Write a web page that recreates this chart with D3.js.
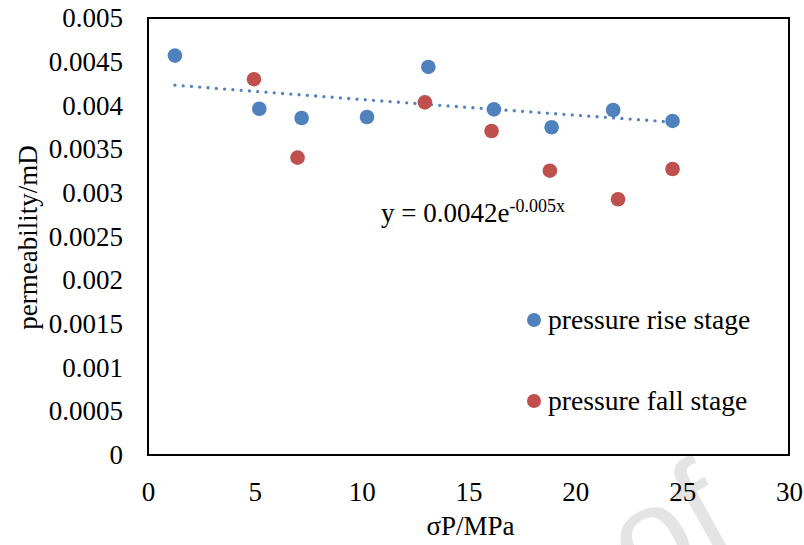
<!DOCTYPE html>
<html>
<head>
<meta charset="utf-8">
<script src="https://cdn.jsdelivr.net/npm/d3@7"></script>
<style>
  body { margin: 0; background: #fff; }
  svg { display: block; }
  text { font-family: "Liberation Serif", "Times New Roman", serif; fill: #000; }
</style>
</head>
<body>
<svg id="chart" width="804" height="545"></svg>
<script>
// Effective stress (MPa) and permeability (mD) for each loading stage
const riseStress = [1.26, 5.21, 7.19, 10.25, 13.12, 16.19, 18.89, 21.77, 24.55];
const risePerm   = [0.00457, 0.003962, 0.003856, 0.003867, 0.00444, 0.003955, 0.00375, 0.003947, 0.003822];
const fallStress = [4.96, 7.0, 12.96, 16.08, 18.81, 22.0, 24.55];
const fallPerm   = [0.0043, 0.003402, 0.004035, 0.003707, 0.003253, 0.002926, 0.003272];

const xTicks = [0, 5, 10, 15, 20, 25, 30];
const yTicks = [0, 0.0005, 0.001, 0.0015, 0.002, 0.0025, 0.003, 0.0035, 0.004, 0.0045, 0.005];
const yTickLabels = ["0", "0.0005", "0.001", "0.0015", "0.002", "0.0025", "0.003", "0.0035", "0.004", "0.0045", "0.005"];
const seriesNames = ["pressure rise stage", "pressure fall stage"];
const seriesColors = ["#4F81BD", "#C0504D"];
const xTitle = "σP/MPa";
const yTitle = "permeability/mD";
const trendCoef = "0.0042";
const trendExp = "-0.005x";

const W = 804, H = 545;
const margin = { left: 148, top: 18, right: 15, bottom: 90 };
const iw = W - margin.left - margin.right;
const ih = H - margin.top - margin.bottom;

const svg = d3.select("#chart");

// faint watermark behind the chart, running off the lower edge
svg.append("text")
  .attr("transform", "translate(739,540) rotate(-29)")
  .attr("text-anchor", "end")
  .style("font-family", "'Liberation Sans', Arial, sans-serif")
  .style("font-size", "136px")
  .style("fill", "#e4e4e4")
  .text("of");

const x = d3.scaleLinear().domain([0, 30]).range([0, iw]);
const y = d3.scaleLinear().domain([0, 0.005]).range([ih, 0]);

const g = svg.append("g").attr("transform", `translate(${margin.left},${margin.top})`);

g.append("rect").attr("width", iw).attr("height", ih).attr("fill", "#fff");

// axes: labels only, no tick marks
const xAxis = g.append("g").attr("transform", `translate(0,${ih})`)
  .call(d3.axisBottom(x).tickValues(xTicks).tickSize(0).tickPadding(27).tickFormat(d3.format("d")));
const yAxis = g.append("g")
  .call(d3.axisLeft(y).tickValues(yTicks).tickSize(0).tickPadding(25)
    .tickFormat((d, i) => yTickLabels[i]));
[xAxis, yAxis].forEach(a => {
  a.select(".domain").remove();
  a.selectAll("text").style("font-size", "27px").style("font-family", "'Liberation Serif', 'Times New Roman', serif");
});

// plot frame
g.append("rect").attr("width", iw).attr("height", ih)
  .attr("fill", "none").attr("stroke", "#000").attr("stroke-width", 2);

// exponential trend fitted to the rise-stage points (least squares on ln k)
const lnK = risePerm.map(Math.log);
const mx = d3.mean(riseStress), my = d3.mean(lnK);
const b = d3.sum(riseStress, (s, i) => (s - mx) * (lnK[i] - my)) / d3.sum(riseStress, s => (s - mx) ** 2);
const a = Math.exp(my - b * mx);
const [s0, s1] = d3.extent(riseStress);
const trendPts = d3.range(0, 101).map(i => s0 + (s1 - s0) * i / 100);
g.append("path")
  .datum(trendPts)
  .attr("d", d3.line().x(s => x(s)).y(s => y(a * Math.exp(b * s))))
  .attr("fill", "none")
  .attr("stroke", seriesColors[0])
  .attr("stroke-width", 3.3)
  .attr("stroke-linecap", "round")
  .attr("stroke-dasharray", "0 8.3");

// markers
const series = [
  riseStress.map((s, i) => ({ s, k: risePerm[i] })),
  fallStress.map((s, i) => ({ s, k: fallPerm[i] }))
];
series.forEach((pts, si) => {
  g.append("g").selectAll("circle").data(pts).join("circle")
    .attr("cx", d => x(d.s)).attr("cy", d => y(d.k)).attr("r", 7.3)
    .attr("fill", seriesColors[si]);
});

// trend equation
const eq = g.append("text").attr("x", 233).attr("y", 204).style("font-size", "27px");
eq.append("tspan").text(`y = ${trendCoef}e`);
eq.append("tspan").attr("dy", -10).style("font-size", "18px").text(trendExp);

// legend
const leg = g.append("g").attr("transform", "translate(386,302)");
seriesNames.forEach((name, i) => {
  const row = leg.append("g").attr("transform", `translate(0,${i * 81})`);
  row.append("circle").attr("r", 7).attr("fill", seriesColors[i]);
  row.append("text").attr("x", 14).attr("y", 8.5).style("font-size", "27.6px").text(name);
});

// axis titles
svg.append("text").attr("x", margin.left + iw / 2 + 2).attr("y", 535)
  .attr("text-anchor", "middle").style("font-size", "27px").text(xTitle);
svg.append("text").attr("transform", `translate(37,${margin.top + ih / 2 + 1}) rotate(-90)`)
  .attr("text-anchor", "middle").style("font-size", "27px").text(yTitle);
</script>
</body>
</html>
